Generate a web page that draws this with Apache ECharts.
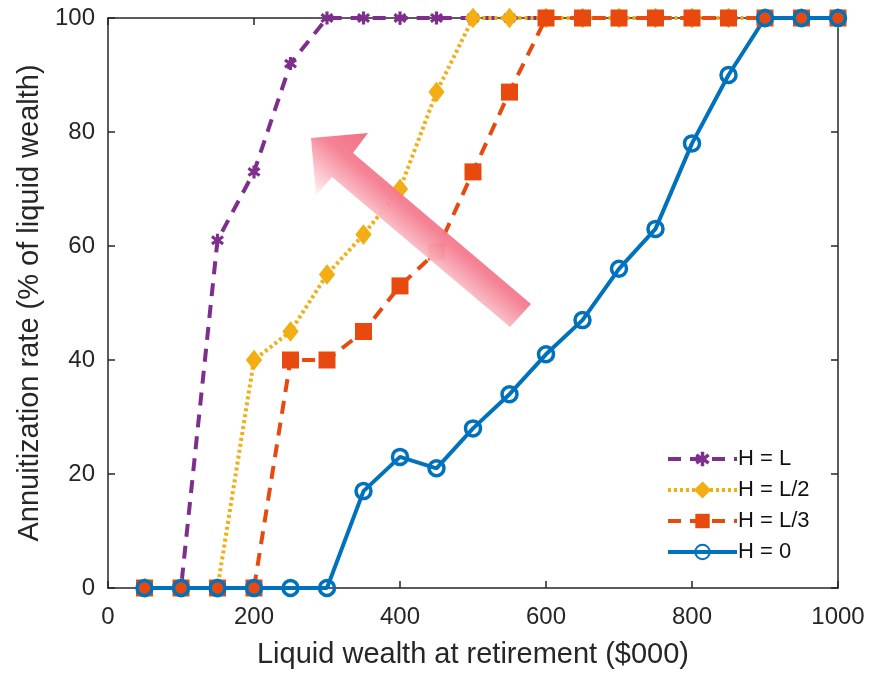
<!DOCTYPE html>
<html>
<head>
<meta charset="utf-8">
<script src="https://cdn.jsdelivr.net/npm/echarts@6/dist/echarts.min.js"></script>
<style>
  html, body { margin: 0; padding: 0; background: #ffffff; }
  #chart { width: 870px; height: 674px; }
</style>
</head>
<body>
<div id="chart"></div>
<script>
// ---- data ----
var wealth = [50, 100, 150, 200, 250, 300, 350, 400, 450, 500, 550, 600, 650, 700, 750, 800, 850, 900, 950, 1000];
var seriesNames = ['H = L', 'H = L/2', 'H = L/3', 'H = 0'];
var rateHL  = [0, 0, 61, 73, 92, 100, 100, 100, 100, 100, 100, 100, 100, 100, 100, 100, 100, 100, 100, 100];
var rateHL2 = [0, 0, 0, 40, 45, 55, 62, 70, 87, 100, 100, 100, 100, 100, 100, 100, 100, 100, 100, 100];
var rateHL3 = [0, 0, 0, 0, 40, 40, 45, 53, 59, 73, 87, 100, 100, 100, 100, 100, 100, 100, 100, 100];
var rateH0  = [0, 0, 0, 0, 0, 0, 17, 23, 21, 28, 34, 41, 47, 56, 63, 78, 90, 100, 100, 100];
var xTicks = [0, 200, 400, 600, 800, 1000];
var yTicks = [0, 20, 40, 60, 80, 100];
var xTitle = 'Liquid wealth at retirement ($000)';
var yTitle = 'Annuitization rate (% of liquid wealth)';

function pairs(vals) { return wealth.map(function (x, i) { return [x, vals[i]]; }); }

var FONT = '"Liberation Sans", Arial, Helvetica, sans-serif';
var AXC = '#262626';
var asterisk = 'path://M3.8,0 L6.2,0 L6.2,2.9 L8.5,1.2 L9.9,3.1 L7.4,5 L9.9,6.9 L8.5,8.8 L6.2,7.1 L6.2,10 L3.8,10 L3.8,7.1 L1.5,8.8 L0.1,6.9 L2.6,5 L0.1,3.1 L1.5,1.2 L3.8,2.9 Z';

var chart = echarts.init(document.getElementById('chart'), null, { renderer: 'canvas' });

var axisCommon = {
  axisLine: { show: true, onZero: false, lineStyle: { color: AXC, width: 1.5 } },
  axisTick: { show: true, inside: true, length: 7, lineStyle: { color: AXC, width: 1.5 } },
  splitLine: { show: false }
};

var option = {
  animation: false,
  backgroundColor: '#ffffff',
  grid: { left: 108, right: 32, top: 18, bottom: 84, containLabel: false },
  xAxis: [
    Object.assign({
      type: 'value', min: 0, max: 1000, interval: 200, position: 'bottom',
      name: xTitle, nameLocation: 'middle', nameGap: 52,
      nameTextStyle: { fontFamily: FONT, fontSize: 29, color: AXC },
      axisLabel: { fontFamily: FONT, fontSize: 24, color: AXC, margin: 17,
        formatter: function (v) { return xTicks.indexOf(v) >= 0 ? String(v) : ''; } }
    }, axisCommon),
    Object.assign({
      type: 'value', min: 0, max: 1000, interval: 200, position: 'top',
      axisLabel: { show: false }
    }, axisCommon)
  ],
  yAxis: [
    Object.assign({
      type: 'value', min: 0, max: 100, interval: 20, position: 'left',
      name: yTitle, nameLocation: 'middle', nameGap: 62,
      nameTextStyle: { fontFamily: FONT, fontSize: 29, color: AXC },
      axisLabel: { fontFamily: FONT, fontSize: 24, color: AXC, margin: 13,
        formatter: function (v) { return yTicks.indexOf(v) >= 0 ? String(v) : ''; } }
    }, axisCommon),
    Object.assign({
      type: 'value', min: 0, max: 100, interval: 20, position: 'right',
      axisLabel: { show: false }
    }, axisCommon)
  ],
  legend: {
    orient: 'vertical', left: 661, top: 443,
    itemWidth: 69, itemHeight: 18, itemGap: 9,
    lineStyle: { width: 4 },
    textStyle: { fontFamily: FONT, fontSize: 22, color: '#111111', padding: [0, 0, 0, -4] },
    data: seriesNames
  },
  series: [
    {
      name: seriesNames[0], type: 'line', data: pairs(rateHL), clip: false,
      symbol: asterisk, symbolSize: 13,
      lineStyle: { color: '#7E2F8E', width: 4, type: [13, 9] },
      itemStyle: { color: '#7E2F8E' }
    },
    {
      name: seriesNames[1], type: 'line', data: pairs(rateHL2), clip: false,
      symbol: 'diamond', symbolSize: [15, 19],
      lineStyle: { color: '#F2AE12', width: 4, type: [3, 3] },
      itemStyle: { color: '#F2AE12', borderColor: '#F2AE12', borderWidth: 1 }
    },
    {
      name: seriesNames[2], type: 'line', data: pairs(rateHL3), clip: false,
      symbol: 'rect', symbolSize: 17,
      lineStyle: { color: '#E8490F', width: 4, type: [13, 9] },
      itemStyle: { color: '#E8490F' }
    },
    {
      name: seriesNames[3], type: 'line', data: pairs(rateH0), clip: false,
      symbol: 'circle', symbolSize: 15,
      lineStyle: { color: '#0072BD', width: 4, type: 'solid' },
      itemStyle: { color: 'rgba(255,255,255,0)', borderColor: '#0072BD', borderWidth: 3.5 }
    }
  ],
  graphic: [
    {
      type: 'polygon', z: 100, silent: true,
      shape: { points: [[311, 138], [368, 133], [353, 153], [531, 304], [510, 327], [332, 177], [316, 195]] },
      style: {
        opacity: 0.95,
        fill: {
          type: 'linear', global: true, x: 316, y: 195, x2: 368, y2: 133,
          colorStops: [
            { offset: 0, color: '#FFF2F4' },
            { offset: 0.3, color: '#F9B9C3' },
            { offset: 0.6, color: '#F47D90' },
            { offset: 1, color: '#F2687D' }
          ]
        }
      }
    }
  ]
};

chart.setOption(option);
</script>
</body>
</html>
